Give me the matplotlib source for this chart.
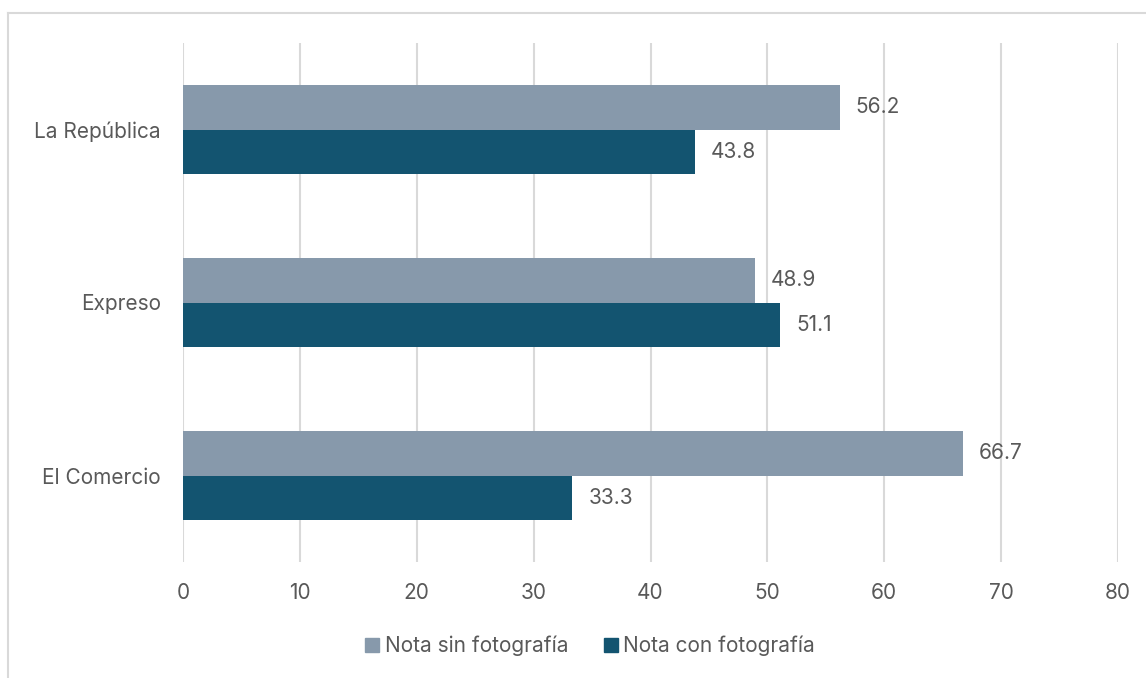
import matplotlib.pyplot as plt
import numpy as np
from matplotlib.lines import Line2D
from matplotlib.patches import Patch

plt.rcParams['font.family'] = ['Inter', 'DejaVu Sans']

# datos
categorias = ['El Comercio', 'Expreso', 'La República']
sin_foto = [66.7, 48.9, 56.2]
con_foto = [33.3, 51.1, 43.8]
series = ['Nota sin fotografía', 'Nota con fotografía']
ticks_x = [0, 10, 20, 30, 40, 50, 60, 70, 80]

c_sin = '#8799AB'
c_con = '#135470'
c_txt = '#595959'
fs = 15

W, H = 1146, 678
fig = plt.figure(figsize=(W / 100, H / 100), dpi=100)
ax = fig.add_axes([183 / W, (H - 562) / H, (1118 - 183) / W, (562 - 43) / H])

y = np.arange(len(categorias))
h = 0.26
b1 = ax.barh(y + h / 2, sin_foto, height=h, color=c_sin, zorder=3)
b2 = ax.barh(y - h / 2, con_foto, height=h, color=c_con, zorder=3)

for bars, vals in ((b1, sin_foto), (b2, con_foto)):
    for bar, v in zip(bars, vals):
        ax.annotate('{:.1f}'.format(v), (v, bar.get_y() + bar.get_height() / 2),
                    xytext=(16, 0), textcoords='offset pixels',
                    va='center', ha='left', fontsize=fs, color=c_txt)

ax.set_xlim(0, 80)
ax.set_ylim(-0.5, len(categorias) - 0.5)
ax.set_xticks(ticks_x)
ax.set_yticks(y)
ax.set_yticklabels(categorias)
ax.tick_params(length=0, labelsize=fs, colors=c_txt)
ax.tick_params(axis='x', pad=15)
ax.tick_params(axis='y', pad=16)
ax.grid(axis='x', color='#d9d9d9', linewidth=1.5, zorder=0)
for s in ax.spines.values():
    s.set_visible(False)

handles = [Patch(color=c_sin), Patch(color=c_con)]
fig.legend(handles, series, loc='center', bbox_to_anchor=(590 / W, (H - 646) / H),
           ncol=2, frameon=False, fontsize=fs, labelcolor=c_txt,
           handlelength=0.7, handleheight=0.7, handletextpad=0.25, columnspacing=1.7)

# borde del gráfico
fig.add_artist(Line2D([8 / W, 8 / W], [0, (H - 13) / H], color='#d9d9d9', lw=1.5))
fig.add_artist(Line2D([8 / W, 1], [(H - 13) / H, (H - 13) / H], color='#d9d9d9', lw=1.5))

fig.savefig('out.png', dpi=100)
